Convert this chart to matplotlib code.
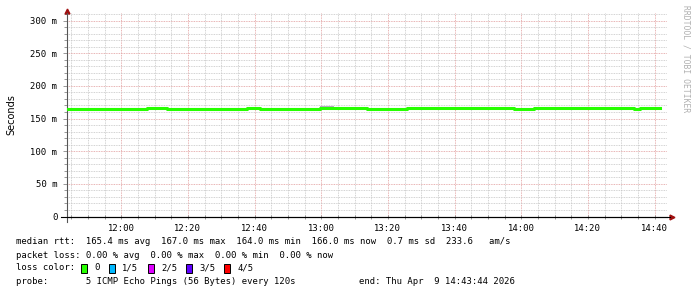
import numpy as np
import pandas as pd
import matplotlib
matplotlib.use("Agg")
import matplotlib.pyplot as plt
import matplotlib.dates as mdates
from matplotlib.patches import Rectangle

# median rtt (ms), one value per 120 s step, starting 11:43:44
median_ms = [164, 164, 164, 164, 165, 165, 164.5, 165, 165, 165,
             165, 165, 165.5, 166.5, 165.5, 165, 164, 165, 164, 164.5,
             165, 164, 164, 164.5, 164.5, 164.5, 164.5, 165.5, 166, 165,
             165, 165, 165, 165, 165, 165, 165, 165, 166.5, 166.5,
             166, 166, 165.5, 166, 166.5, 165, 165, 165, 165, 165,
             165, 165.5, 166, 166, 166, 166.5, 166.5, 166, 166, 166.5,
             166, 166, 165.5, 166, 166.5, 166.5, 166, 165, 165, 165,
             166.5, 166.5, 166, 166, 166.5, 166.5, 166.5, 166, 166.5, 166.5,
             166.5, 166.5, 166.5, 166.5, 166, 165, 166.5, 166.5, 166]
# a few steps with visible smoke (max ping, ms)
smoke_idx = [38, 39, 55, 64, 74]
smoke_top = [169, 168.5, 168, 167.5, 167.5]

loss_labels = ["0", "1/5", "2/5", "3/5", "4/5"]
loss_colors = ["#26ff00", "#00b8ff", "#dd00ff", "#5e00ff", "#ff0000"]

y_ticks = [0, 50, 100, 150, 200, 250, 300]
y_labels = ["0", "50 m", "100 m", "150 m", "200 m", "250 m", "300 m"]

start = pd.Timestamp("2026-04-09 11:43:44")
end = pd.Timestamp("2026-04-09 14:43:44")
times = pd.date_range(start, periods=len(median_ms), freq="120s")

mono = "DejaVu Sans Mono"
fs = 6.4

fig = plt.figure(figsize=(6.97, 2.97), dpi=100)
W, H = 697, 297
ax = fig.add_axes([67 / W, 1 - 216.5 / H, 600 / W, (216.5 - 13) / H])

# smoke
for i, top in zip(smoke_idx, smoke_top):
    ax.fill_between([times[i], times[i] + pd.Timedelta(seconds=120)],
                    median_ms[i], top, color="#b8a8c0", lw=0, zorder=2)

# median line
tt = list(times) + [times[-1] + pd.Timedelta(seconds=120)]
ax.step(tt, median_ms + [median_ms[-1]], where="post",
        color=loss_colors[0], lw=2.2, zorder=3)

ax.set_xlim(start, end)
ax.set_ylim(0, 311.6)

# grid
ax.xaxis.set_major_locator(mdates.MinuteLocator(byminute=range(0, 60, 20)))
ax.xaxis.set_minor_locator(mdates.MinuteLocator(byminute=range(0, 60, 5)))
ax.xaxis.set_major_formatter(mdates.DateFormatter("%H:%M"))
ax.set_yticks(y_ticks)
ax.set_yticklabels(y_labels)
ax.set_yticks(np.arange(0, 311, 10), minor=True)
ax.grid(which="minor", color="#c4c4c4", ls=(0, (1, 1)), lw=0.6)
ax.grid(which="major", color="#e09a9a", ls=(0, (1, 1)), lw=0.6)
ax.set_axisbelow(True)

ax.tick_params(which="both", labelsize=fs, labelfontfamily=mono, width=0.6,
               color="#888888", pad=4)
ax.tick_params(axis="y", which="major", length=3)
ax.tick_params(axis="y", which="minor", length=2)
ax.tick_params(axis="x", which="both", direction="inout", length=3)

ax.spines["top"].set_visible(False)
ax.spines["right"].set_visible(False)
ax.spines["left"].set_color("#555555")
ax.spines["bottom"].set_color("#000000")
ax.spines["left"].set_bounds(-8, 311.6)

# axis arrows
ax.plot([0], [1.012], marker="^", ms=3.5, color="#a01010", transform=ax.transAxes, clip_on=False)
ax.plot([1.008], [0], marker=">", ms=3.5, color="#a01010", transform=ax.transAxes, clip_on=False)
ax.plot([-0.01, 1.005], [0, 0], color="black", lw=0.8, transform=ax.transAxes, clip_on=False)

fig.text(11 / W, 1 - 115 / H, "Seconds", rotation=90, ha="center", va="center",
         fontsize=7, family="DejaVu Sans")
fig.text(686 / W, 1 - 5 / H, "RRDTOOL / TOBI OETIKER", rotation=270, ha="center",
         va="top", fontsize=5.8, family=mono, color="#b0b0b0")

# legend
def line(y, s, x=16):
    fig.text(x / W, 1 - y / H, s, family=mono, fontsize=fs, va="center", ha="left")

line(241, "median rtt:  165.4 ms avg  167.0 ms max  164.0 ms min  166.0 ms now  0.7 ms sd  233.6   am/s")
line(255, "packet loss: 0.00 % avg  0.00 % max  0.00 % min  0.00 % now")
line(268, "loss color:")
line(282, "probe:       5 ICMP Echo Pings (56 Bytes) every 120s")
line(282, "end: " + end.strftime("%a %b ") + "%2d" % end.day + end.strftime(" %H:%M:%S %Y"), x=359)

box_x = [81, 109, 148, 186, 224]
for bx, lab, col in zip(box_x, loss_labels, loss_colors):
    fig.add_artist(Rectangle((bx / W, 1 - 272.5 / H), 6 / W, 9 / H, transform=fig.transFigure,
                             facecolor=col, edgecolor="black", lw=0.7))
    line(268, lab, x=bx + 13)

fig.savefig("out.png", dpi=100, facecolor="white")
